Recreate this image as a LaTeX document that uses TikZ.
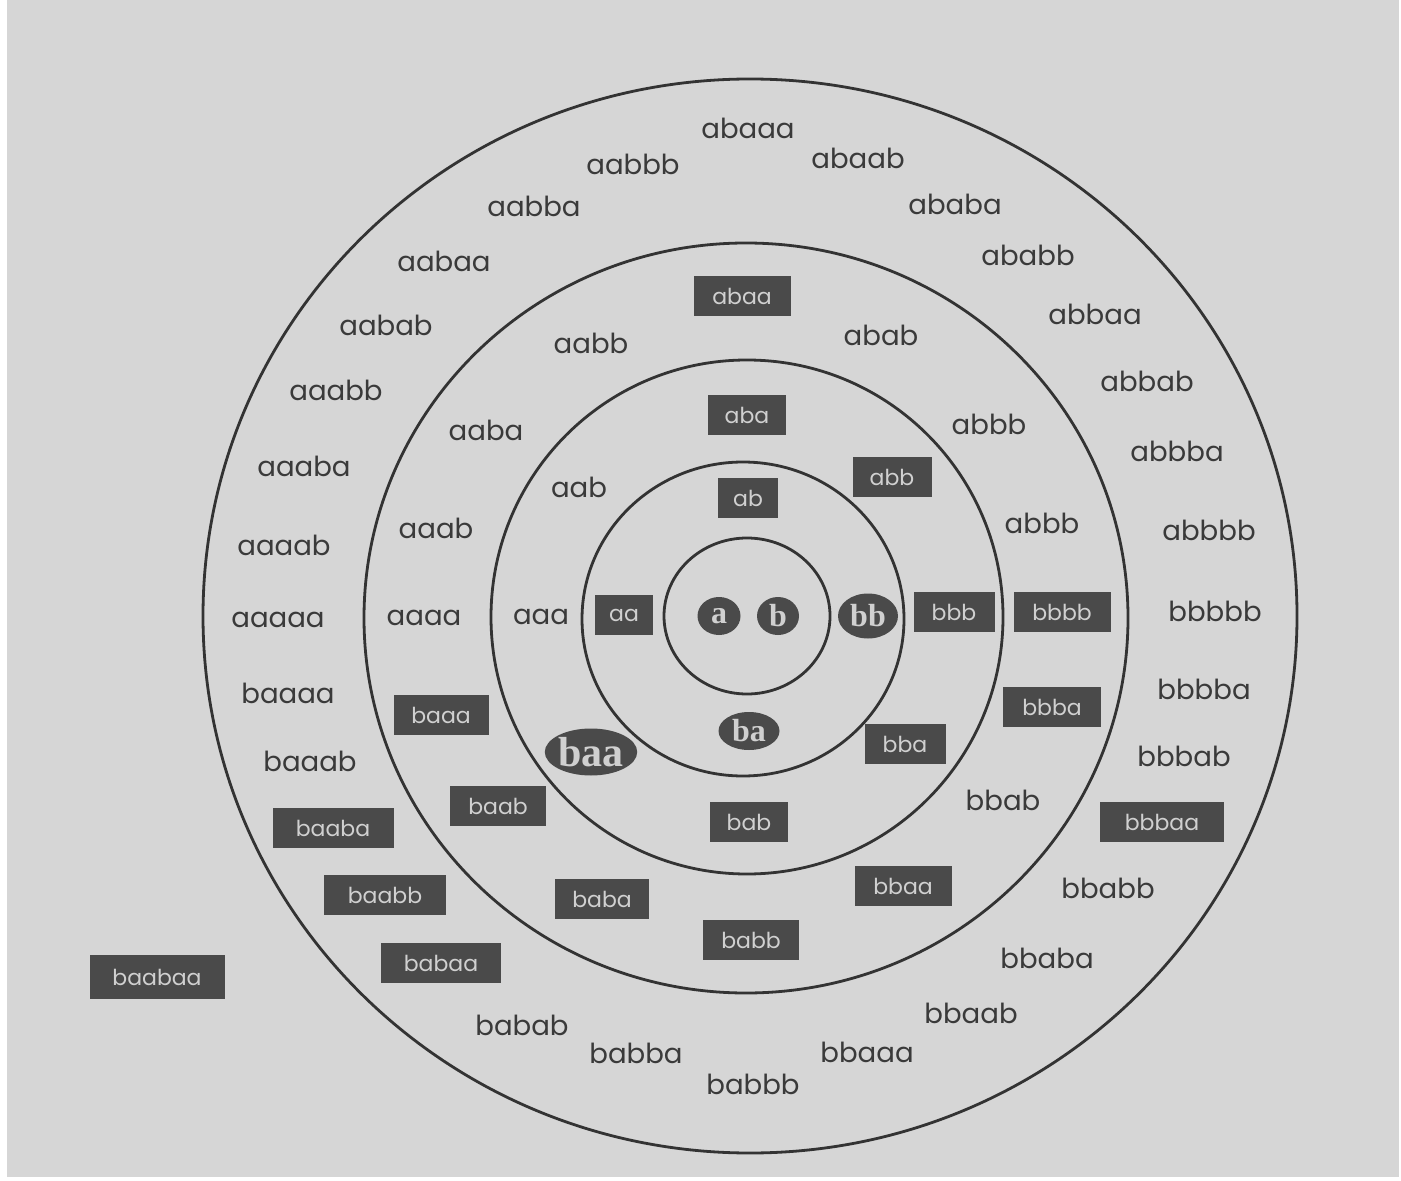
\documentclass[tikz,border=0pt]{standalone}
\usepackage{fontspec}
\setmainfont{Poppins}
\newfontfamily\ellfont{Liberation Serif}
\usetikzlibrary{shapes.geometric}
\definecolor{paper}{HTML}{D6D6D6}
\definecolor{ink}{HTML}{333333}
\definecolor{txt}{HTML}{3A3A3A}
\definecolor{boxfill}{HTML}{4A4A4A}
\definecolor{boxtxt}{HTML}{D0D0D0}
\tikzset{
  ring/.style={draw=ink, line width=1.4pt},
  lbl/.style={text=txt, font=\fontsize{13.8}{15}\selectfont, inner sep=0pt},
  dbox/.style={fill=boxfill, draw=none, text=boxtxt, inner sep=0pt,
     font=\fontsize{11}{12}\selectfont, minimum height=20pt},
  dell/.style={ellipse, fill=boxfill, draw=none, text=boxtxt, inner sep=0pt,
     font=\fontsize{16}{17}\selectfont\bfseries\ellfont}
}
\begin{document}
\begin{tikzpicture}[x=0.5pt, y=-0.5pt]
\useasboundingbox (0,0) rectangle (1401,1181);
\fill[white] (0,0) rectangle (1401,1181);
\fill[paper] (7,0) rectangle (1399,1177);
% rings
\draw[ring] (747,616) ellipse [x radius=83, y radius=78];
\draw[ring] (743,619) ellipse [x radius=161, y radius=157];
\draw[ring] (747,617) ellipse [x radius=256, y radius=257];
\draw[ring] (746,618) ellipse [x radius=382, y radius=375];
\draw[ring] (750,616) ellipse [x radius=547, y radius=537];
% ring 1
\node[dell, minimum width=21.5pt, minimum height=19pt] (a) at (719,616) {a};
\node[dell, minimum width=21pt, minimum height=19pt] (b) at (778,616) {b};
% ring 2
\node[dbox, minimum width=29pt] (aa) at (624,615) {aa};
\node[dbox, minimum width=30pt] (ab) at (748,498) {ab};
\node[dell, minimum width=30pt, minimum height=22.5pt] (bb) at (868,616) {bb};
\node[dell, minimum width=30.5pt, minimum height=19pt] (ba) at (749,731) {ba};
% ring 3
\node[lbl] (aaa) at (541,617) {aaa};
\node[lbl] (aab) at (579,487) {aab};
\node[dbox, minimum width=39pt] (aba) at (747,415) {aba};
\node[dbox, minimum width=39.5pt] (abb) at (892,477) {abb};
\node[dbox, minimum width=40.5pt] (bbb) at (954,612) {bbb};
\node[dbox, minimum width=40.5pt] (bba) at (905,744) {bba};
\node[dbox, minimum width=39pt] (bab) at (749,822) {bab};
\node[dell, minimum width=45.5pt, minimum height=23.5pt, font=\fontsize{21}{22}\selectfont\bfseries\ellfont] (baa) at (591,752) {baa};
% ring 4
\node[lbl] (aaaa) at (424,618) {aaaa};
\node[lbl] (aaab) at (436,528) {aaab};
\node[lbl] (aaba) at (486,430) {aaba};
\node[lbl] (aabb) at (591,343) {aabb};
\node[dbox, minimum width=48.5pt] (abaa) at (742,296) {abaa};
\node[lbl] (abab) at (881,335) {abab};
\node[lbl] (abbbA) at (989,424) {abbb};
\node[lbl] (abbbB) at (1042,523) {abbb};
\node[dbox, minimum width=48.5pt] (bbbb) at (1062,612) {bbbb};
\node[dbox, minimum width=49pt] (bbba) at (1052,707) {bbba};
\node[lbl] (bbab) at (1003,800) {bbab};
\node[dbox, minimum width=48.5pt] (bbaa) at (903,886) {bbaa};
\node[dbox, minimum width=48pt] (babb) at (751,940) {babb};
\node[dbox, minimum width=47pt] (baba) at (602,899) {baba};
\node[dbox, minimum width=48pt] (baab) at (498,806) {baab};
\node[dbox, minimum width=47.5pt] (baaa) at (441,715) {baaa};
% ring 5
\node[lbl] (abaaa) at (748,128) {abaaa};
\node[lbl] (aabbb) at (633,164) {aabbb};
\node[lbl] (abaab) at (858,158) {abaab};
\node[lbl] (aabba) at (534,206) {aabba};
\node[lbl] (ababa) at (955,204) {ababa};
\node[lbl] (aabaa) at (444,261) {aabaa};
\node[lbl] (ababb) at (1028,255) {ababb};
\node[lbl] (aabab) at (386,325) {aabab};
\node[lbl] (abbaa) at (1095,314) {abbaa};
\node[lbl] (aaabb) at (336,390) {aaabb};
\node[lbl] (abbab) at (1147,381) {abbab};
\node[lbl] (aaaba) at (304,466) {aaaba};
\node[lbl] (abbba) at (1177,451) {abbba};
\node[lbl] (aaaab) at (284,545) {aaaab};
\node[lbl] (abbbb) at (1209,530) {abbbb};
\node[lbl] (aaaaa) at (278,620) {aaaaa};
\node[lbl] (bbbbb) at (1215,611) {bbbbb};
\node[lbl] (baaaa) at (288,693) {baaaa};
\node[lbl] (bbbba) at (1204,689) {bbbba};
\node[lbl] (baaab) at (310,761) {baaab};
\node[lbl] (bbbab) at (1184,756) {bbbab};
\node[dbox, minimum width=62pt] (bbbaa) at (1162,822) {bbbaa};
\node[lbl] (bbabb) at (1108,888) {bbabb};
\node[lbl] (bbaba) at (1047,958) {bbaba};
\node[lbl] (bbaab) at (971,1013) {bbaab};
\node[lbl] (bbaaa) at (867,1052) {bbaaa};
\node[lbl] (babbb) at (753,1084) {babbb};
\node[lbl] (babba) at (636,1053) {babba};
\node[lbl] (babab) at (522,1025) {babab};
\node[dbox, minimum width=60pt] (babaa) at (441,963) {babaa};
\node[dbox, minimum width=61pt] (baabb) at (385,895) {baabb};
\node[dbox, minimum width=60.5pt] (baaba) at (333,828) {baaba};
% outside
\node[dbox, minimum width=67.5pt, minimum height=22pt] (baabaa) at (157,977) {baabaa};
\end{tikzpicture}
\end{document}
